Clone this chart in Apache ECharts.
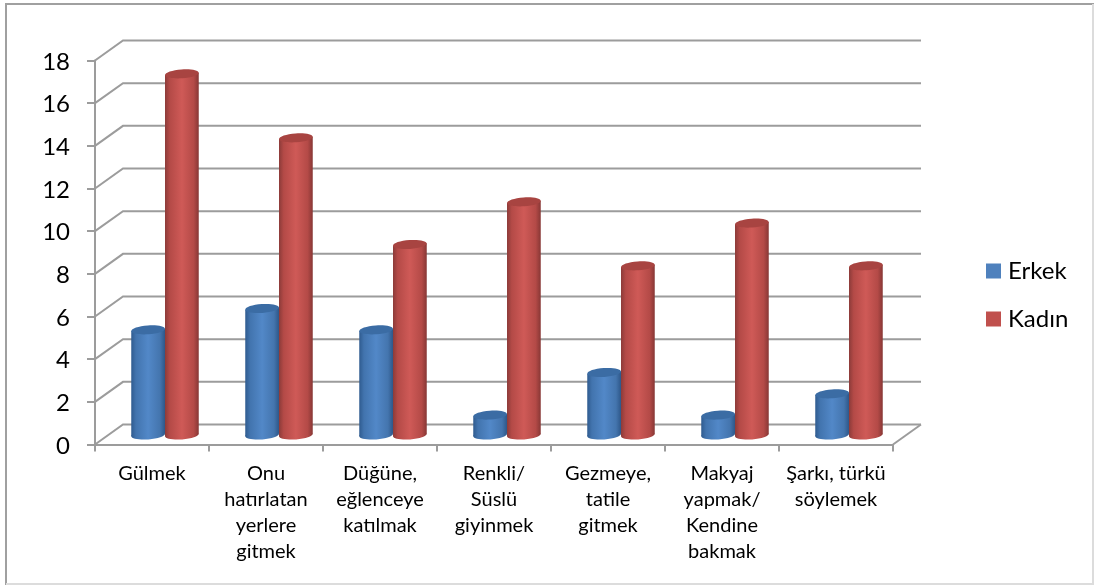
<!DOCTYPE html>
<html>
<head>
<meta charset="utf-8">
<style>html,body{margin:0;padding:0;background:#fff}#chart{width:1094px;height:585px}</style>
<script src="https://cdn.jsdelivr.net/npm/echarts@6/dist/echarts.min.js"></script>
</head>
<body>
<div id="chart"></div>
<script>
// Responses per activity, split by gender
const categories = ['Gülmek', 'Onu\nhatırlatan\nyerlere\ngitmek', 'Düğüne,\neğlenceye\nkatılmak', 'Renkli/\nSüslü\ngiyinmek', 'Gezmeye,\ntatile\ngitmek', 'Makyaj\nyapmak/\nKendine\nbakmak', 'Şarkı, türkü\nsöylemek'];
const erkek = [5, 6, 5, 1, 3, 1, 2];
const kadin = [17, 14, 9, 11, 8, 10, 8];
const yTicks = [0, 2, 4, 6, 8, 10, 12, 14, 16, 18];

// Depth of the pseudo-3D floor, in pixels
const DEPTH_X = 28, DEPTH_Y = -20;
const WALL = '#9c9c9c';

function wallLine(params, api) {
  const v = api.value(1);
  const c = params.coordSys;
  const y = api.coord([0, v])[1];
  const x0 = c.x, x1 = c.x + c.width;
  const children = [{
    type: 'polyline',
    shape: { points: [[x0, y], [x0 + DEPTH_X, y + DEPTH_Y], [x1 + DEPTH_X, y + DEPTH_Y]] },
    style: { stroke: WALL, lineWidth: 2, fill: null }
  }];
  if (v === 0) {
    children.push({
      type: 'line',
      shape: { x1: x1, y1: y, x2: x1 + DEPTH_X, y2: y + DEPTH_Y },
      style: { stroke: WALL, lineWidth: 2 }
    });
  }
  return { type: 'group', children: children };
}

function cylinder(side, stops, topColor) {
  return function (params, api) {
    const idx = api.value(0);
    const base = api.coord([idx, 0]);
    const top = api.coord([idx, api.value(1)]);
    const band = api.size([1, 0])[0];
    const r = band * 0.148;
    const ry = 4.4, tilt = 0.07, lift = r * Math.sin(tilt);
    const cx = base[0] + DEPTH_X / 2 - 1 + side * r;
    const by = base[1] + DEPTH_Y / 2 + 0.5, ty = top[1] + DEPTH_Y / 2 + 2;
    const grad = { type: 'linear', x: 0, y: 0, x2: 1, y2: 0, colorStops: stops };
    const ell = function (y, fill) {
      return {
        type: 'ellipse', x: cx, y: y, rotation: tilt,
        shape: { cx: 0, cy: 0, rx: r, ry: ry }, style: { fill: fill }
      };
    };
    return {
      type: 'group',
      children: [
        ell(by, grad),
        {
          type: 'polygon',
          shape: { points: [[cx - r, ty + lift], [cx + r, ty - lift], [cx + r, by - lift], [cx - r, by + lift]] },
          style: { fill: grad }
        },
        ell(ty, topColor)
      ]
    };
  };
}

const blueStops = [
  { offset: 0, color: '#2f5b8f' }, { offset: 0.14, color: '#4274ae' },
  { offset: 0.5, color: '#5288c8' }, { offset: 0.85, color: '#4475ae' }, { offset: 1, color: '#2e5789' }
];
const redStops = [
  { offset: 0, color: '#8c3b39' }, { offset: 0.14, color: '#b44a47' },
  { offset: 0.5, color: '#cf5a57' }, { offset: 0.85, color: '#b44a47' }, { offset: 1, color: '#873735' }
];

const frameStrong = { stroke: '#a0a0a0', lineWidth: 2 };
const frameSoft = { stroke: '#dcdcdc', lineWidth: 2 };

const chart = echarts.init(document.getElementById('chart'), null, { renderer: 'canvas' });
chart.setOption({
  animation: false,
  backgroundColor: '#fff',
  textStyle: { fontFamily: 'Lato' },
  graphic: [
    { type: 'line', silent: true, shape: { x1: 5, y1: 4, x2: 1094, y2: 4 }, style: frameStrong },
    { type: 'line', silent: true, shape: { x1: 6, y1: 3, x2: 6, y2: 585 }, style: frameStrong },
    { type: 'line', silent: true, shape: { x1: 1093, y1: 4, x2: 1093, y2: 585 }, style: frameSoft },
    { type: 'line', silent: true, shape: { x1: 6, y1: 584, x2: 1094, y2: 584 }, style: frameSoft }
  ],
  grid: { left: 95, right: 201, top: 60.5, bottom: 140.5, containLabel: false },
  legend: {
    left: 981, top: 254, orient: 'vertical', itemWidth: 15, itemHeight: 15, itemGap: 24,
    icon: 'rect', data: ['Erkek', 'Kadın'],
    textStyle: { fontFamily: 'Lato', fontSize: 24, color: '#000', padding: [0, 0, 0, 2] }
  },
  xAxis: {
    type: 'category', data: categories,
    axisLine: { lineStyle: { color: WALL, width: 2 } },
    axisTick: { show: true, length: 7, alignWithLabel: false, lineStyle: { color: WALL, width: 2 } },
    axisLabel: { interval: 0, fontSize: 20, lineHeight: 26, color: '#000', margin: 16, fontFamily: 'Lato' },
    splitLine: { show: false }
  },
  yAxis: {
    type: 'value', min: 0, max: 18, interval: 2,
    axisLine: { show: true, lineStyle: { color: WALL, width: 2 } },
    axisTick: { show: true, length: 8, lineStyle: { color: WALL, width: 2 } },
    axisLabel: { fontSize: 24, lineHeight: 24, color: '#000', margin: 25, fontFamily: 'Lato', verticalAlign: 'top', padding: [-10.5, 0, 0, 0] },
    splitLine: { show: false }
  },
  series: [
    {
      type: 'custom', silent: true, z: 1, renderItem: wallLine,
      data: yTicks.map(function (v) { return [0, v]; }), encode: { x: 0, y: 1 }
    },
    {
      name: 'Erkek', type: 'custom', z: 3, itemStyle: { color: '#4f81bd' },
      renderItem: cylinder(-1, blueStops, '#3b6ca4'),
      data: erkek.map(function (v, i) { return [i, v]; }), encode: { x: 0, y: 1 }
    },
    {
      name: 'Kadın', type: 'custom', z: 4, itemStyle: { color: '#c0504d' },
      renderItem: cylinder(1, redStops, '#a84441'),
      data: kadin.map(function (v, i) { return [i, v]; }), encode: { x: 0, y: 1 }
    }
  ]
});
</script>
</body>
</html>
